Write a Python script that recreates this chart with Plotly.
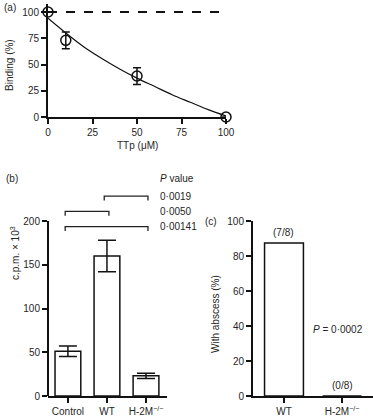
import plotly.graph_objects as go

W, H = 373, 418
def px(x): return x / W
def py(y): return 1 - y / H

# ---- Panel (a) data ----
ttp_conc = [0, 10, 50, 100]
binding = [100, 73, 39, 0]
binding_err = [None, 8, 8, None]
fit_x = [0, 10, 20, 30, 40, 50, 60, 70, 80, 90, 100]
fit_y = [94, 80, 67, 56, 46, 37, 29, 21, 14, 7, 1]
a_ticks = [0, 25, 50, 75, 100]

# ---- Panel (b) data ----
groups_b = ["Control", "WT", "H-2M<sup>−/−</sup>"]
cpm = [51, 160, 23]
cpm_err = [6, 18, 3]
b_ticks = [0, 50, 100, 150, 200]
brackets = [(1, 2, 228.5), (0, 1, 211), (0, 2, 193.5)]
p_labels = ["0·0019", "0·0050", "0·00141"]

# ---- Panel (c) data ----
groups_c = ["WT", "H-2M<sup>−/−</sup>"]
abscess = [87.5, 0]
abscess_lbl = ["(7/8)", "(0/8)"]
c_ticks = [0, 20, 40, 60, 80, 100]

FONT = "Liberation Sans, Arial, sans-serif"
TXT = "#262626"
LW = 2

fig = go.Figure()

# (a)
fig.add_trace(go.Scatter(x=fit_x, y=fit_y, mode="lines", line=dict(color="#111", width=1.2, shape="spline"),
                         xaxis="x", yaxis="y", showlegend=False, hoverinfo="skip"))
fig.add_trace(go.Scatter(x=ttp_conc, y=binding, mode="markers",
                         marker=dict(symbol="circle-open", size=10, color="#111", line=dict(width=1.5)),
                         error_y=dict(type="data", array=binding_err, color="#111", thickness=1.5, width=4),
                         cliponaxis=False, xaxis="x", yaxis="y", showlegend=False))
fig.add_shape(type="line", xref="x", yref="y", x0=0, x1=98, y0=100, y1=100,
              line=dict(color="#111", width=2, dash="dash"))

# (b)
fig.add_trace(go.Bar(x=[0, 1, 2], y=cpm, width=0.66, marker=dict(color="white", line=dict(color="#111", width=1.5)),
                     error_y=dict(type="data", array=cpm_err, color="#111", thickness=1.5, width=9),
                     xaxis="x2", yaxis="y2", showlegend=False))
fig.add_shape(type="line", xref="paper", yref="y2", x0=px(48), x1=px(48), y0=0, y1=200,
              line=dict(color="#111", width=LW))
for (i, j, h), lab in zip(brackets, p_labels):
    fig.add_shape(type="path", xref="x2", yref="y2",
                  path=f"M {i-0.07},{h-5} L {i-0.07},{h} L {j+0.05},{h} L {j+0.05},{h-5}",
                  line=dict(color="#222", width=1.3))
    fig.add_annotation(x=px(158), xref="paper", y=h, yref="y2", text=lab, showarrow=False,
                       xanchor="left", yanchor="middle", font=dict(size=10, color=TXT, family=FONT))

# (c)
fig.add_trace(go.Bar(x=[0, 1], y=abscess, width=0.67, marker=dict(color="white", line=dict(color="#111", width=1.5)),
                     xaxis="x3", yaxis="y3", showlegend=False))
for i, (v, lab) in enumerate(zip(abscess, abscess_lbl)):
    fig.add_annotation(x=i, y=v, xref="x3", yref="y3", text=lab, showarrow=False, yanchor="bottom",
                       yshift=3, font=dict(size=10, color=TXT, family=FONT))
fig.add_annotation(x=0.47, y=38, xref="x3", yref="y3", text="<i>P</i> = 0·0002", showarrow=False,
                   xanchor="left", font=dict(size=10, color=TXT, family=FONT))

def ann(x, y, text, rot=0, xanchor="center"):
    fig.add_annotation(x=px(x), y=py(y), xref="paper", yref="paper", text=text, showarrow=False,
                       textangle=rot, xanchor=xanchor, yanchor="middle",
                       font=dict(size=10, color=TXT, family=FONT))

ann(10, 7, "(a)")
ann(10, 65, "Binding (%)", -90)
ann(137, 146, "TTp (μM)")
ann(12, 178, "(b)")
ann(158, 178, "<i>P</i> value", xanchor="left")
ann(15, 253, "c.p.m. × 10<sup>3</sup>", -90)
ann(211, 221, "(c)")
ann(215, 314, "With abscess (%)", -90)

axis_common = dict(showgrid=False, zeroline=False, linecolor="#111", linewidth=LW, ticks="outside",
                   ticklen=5, tickwidth=LW, tickcolor="#111", automargin=False,
                   tickfont=dict(size=10, color=TXT, family=FONT), fixedrange=True)

fig.update_layout(
    width=W, height=H, margin=dict(l=0, r=0, t=0, b=0, pad=0, autoexpand=False),
    paper_bgcolor="white", plot_bgcolor="white", font=dict(family=FONT, color=TXT, size=10),
    xaxis=dict(domain=[px(48), px(226)], range=[0, 100], tickvals=a_ticks, showline=True,
               anchor="y", **axis_common),
    yaxis=dict(domain=[py(117), py(3.6)], range=[0, 108], tickvals=[0, 25, 50, 75, 100], showline=True,
               anchor="x", **axis_common),
    xaxis2=dict(domain=[px(48), px(166.7)], range=[-0.51, 2.53], tickvals=[0, 1, 2], ticktext=groups_b,
                showline=True, anchor="y2", **axis_common),
    yaxis2=dict(domain=[py(396), py(186)], range=[0, 240], tickvals=b_ticks, showline=False,
                anchor="x2", **axis_common),
    xaxis3=dict(domain=[px(253), px(373)], range=[-0.534, 1.534], tickvals=[0, 1], ticktext=groups_c,
                showline=True, anchor="y3", **axis_common),
    yaxis3=dict(domain=[py(396), py(221)], range=[0, 100], tickvals=c_ticks, showline=True,
                anchor="x3", **axis_common),
)

fig.write_html("out.html", config={"displayModeBar": False},
               post_script="document.body.style.margin='0';document.body.style.overflow='hidden';")
